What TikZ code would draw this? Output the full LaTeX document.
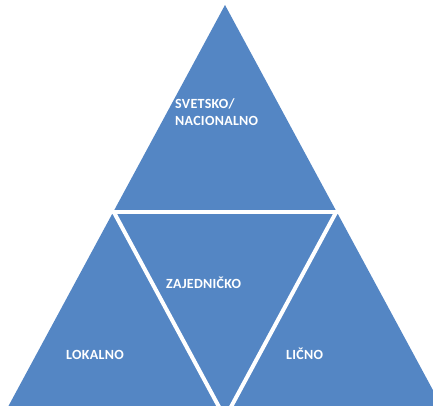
\documentclass[tikz,border=0pt]{standalone}
\usepackage{fontspec}
\setmainfont{Carlito}[LetterSpace=2]
\usetikzlibrary{calc}
\definecolor{triblue}{RGB}{84,134,196}
\begin{document}
\begin{tikzpicture}[x=1pt,y=-1pt,
  lbl/.style={text=white,font=\fontsize{14}{17}\selectfont\bfseries,inner sep=0pt,anchor=base west,align=left},
  gap/.style={draw=white,line width=4pt}]
\useasboundingbox (0,0) rectangle (433,406);
\clip (0,0) rectangle (433,406);
\coordinate (A) at (225,5);
\coordinate (BL) at (2,418);
\coordinate (BR) at (448,418);
\coordinate (ML) at (113.5,211.5);
\coordinate (MR) at (336.5,211.5);
\coordinate (MB) at (225,418);
\fill[triblue] (A) -- (BL) -- (BR) -- cycle;
\draw[gap] ($(ML)!-0.1!(MR)$) -- ($(MR)!-0.1!(ML)$);
\draw[gap] (ML) -- (MB) -- (MR);
\node[lbl] (sv) at (175,126) {SVETSKO/\\NACIONALNO};
\node[lbl] (za) at (166,288) {ZAJEDNIČKO};
\node[lbl] (lo) at (66,359) {LOKALNO};
\node[lbl] (li) at (286,359) {LIČNO};
\end{tikzpicture}
\end{document}
